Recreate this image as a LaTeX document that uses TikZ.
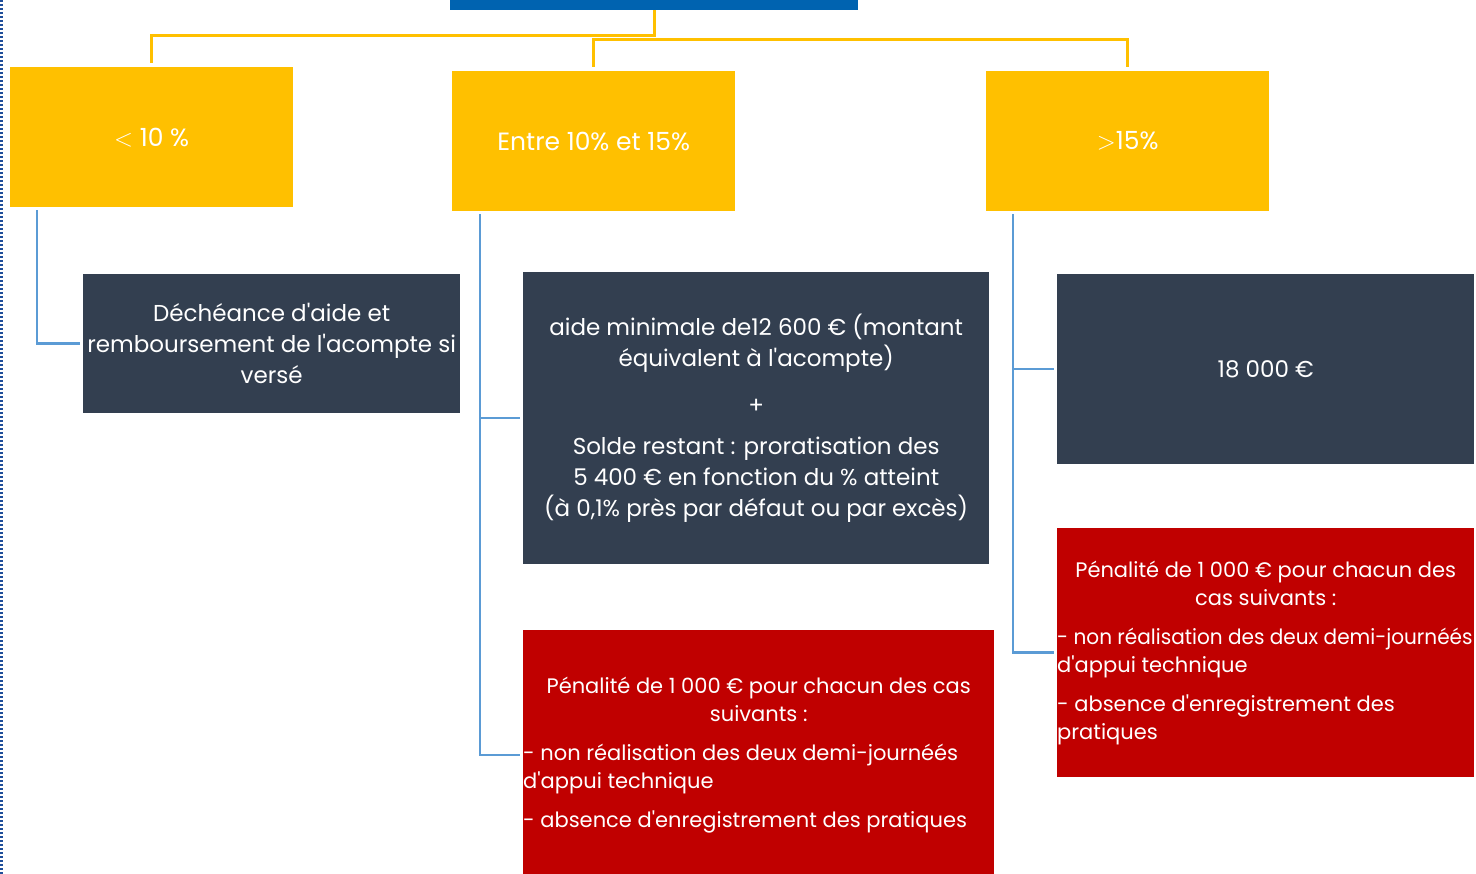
\documentclass[tikz,border=0pt]{standalone}
\usepackage{fontspec}
\setmainfont{Poppins}[Ligatures=TeXOff]
\usetikzlibrary{positioning}

\definecolor{jaune}{HTML}{FFC000}
\definecolor{bleutitre}{HTML}{0063B0}
\definecolor{ardoise}{HTML}{333F50}
\definecolor{rouge}{HTML}{C00000}
\definecolor{bleulien}{HTML}{5B9BD5}
\definecolor{pointille}{HTML}{1F4E9A}

\newcommand\agauche[2]{\makebox[#1][l]{#2}}

\tikzset{
  seuil/.style={fill=jaune, text=white, anchor=north west, minimum width=283pt, minimum height=140pt, font=\fontsize{25}{30}\selectfont},
  bloc/.style={fill=ardoise, text=white, anchor=north west, align=center, inner xsep=0pt, font=\fontsize{23}{31}\selectfont},
  penal/.style={fill=rouge, text=white, anchor=north west, align=center, inner xsep=0pt, font=\fontsize{21}{28}\selectfont},
  lienj/.style={draw=jaune, line width=3pt, shorten >=4pt},
  lienb/.style={draw=bleulien, line width=2.5pt, shorten <=3pt, shorten >=3pt},
}

\begin{document}
\begin{tikzpicture}[x=1pt,y=-1pt]
    \useasboundingbox (0,0) rectangle (1476,874);
    \fill[white] (0,0) rectangle (1476,874);
    \draw[pointille, line width=3pt, dash pattern=on 2pt off 2pt] (1.5,0) -- (1.5,874);

    % titre (coupe en haut)
    \node[fill=bleutitre, anchor=south west, minimum width=408pt, minimum height=40pt] (titre) at (450,10) {};

    % seuils
    \node[seuil] (s1) at (10,67) {$<$ 10 \%};
    \node[seuil] (s2) at (452,71) {Entre 10\% et 15\%};
    \node[seuil] (s3) at (986,71) {$>$15\%};

    % consequences
    \node[bloc, minimum width=377pt, minimum height=139pt] (b1) at (83,274) {D\'ech\'eance d'aide et\\ remboursement de l'acompte si\\ vers\'e};
    \node[bloc, minimum width=466pt, minimum height=292pt] (b2) at (523,272) {aide minimale de12 600 € (montant\\ \'equivalent \`a l'acompte)\\[16pt] +\\[10pt] Solde restant : proratisation des\\ 5 400 € en fonction du \% atteint\\ (\`a 0,1\% pr\`es par d\'efaut ou par exc\`es)};
    \node[bloc, minimum width=417pt, minimum height=190pt] (b3) at (1057,274) {18 000 €};

    % penalites
    \node[penal, minimum width=471pt, minimum height=250pt] (p2) at (523,630) {P\'enalit\'e de 1 000 € pour chacun des cas\\ suivants :\\[11pt]
        \agauche{471pt}{- non r\'ealisation des deux demi-journ\'e\'es}\\ \agauche{471pt}{d'appui technique}\\[11pt]
        \agauche{471pt}{- absence d'enregistrement des pratiques}};
    \node[penal, minimum width=417pt, minimum height=249pt] (p3) at (1057,528) {P\'enalit\'e de 1 000 € pour chacun des\\ cas suivants :\\[11pt]
        \agauche{417pt}{\scalebox{0.955}[1]{- non r\'ealisation des deux demi-journ\'e\'es}}\\ \agauche{417pt}{d'appui technique}\\[11pt]
        \agauche{417pt}{- absence d'enregistrement des}\\ \agauche{417pt}{pratiques}};

    % liens
    \draw[lienj] (titre.south) -- ++(0,26) -| (s1.north);
    \draw[lienj] (titre.south) ++(0,30) -| (s2.north);
    \draw[lienj] (titre.south) ++(0,30) -| (s3.north);
    \draw[lienb] ([xshift=27pt]s1.south west) |- (b1.west);
    \draw[lienb] ([xshift=28pt]s2.south west) |- (b2.west);
    \draw[lienb] ([xshift=28pt]s2.south west) |- (p2.west);
    \draw[lienb] ([xshift=27pt]s3.south west) |- (b3.west);
    \draw[lienb] ([xshift=27pt]s3.south west) |- (p3.west);
\end{tikzpicture}
\end{document}
